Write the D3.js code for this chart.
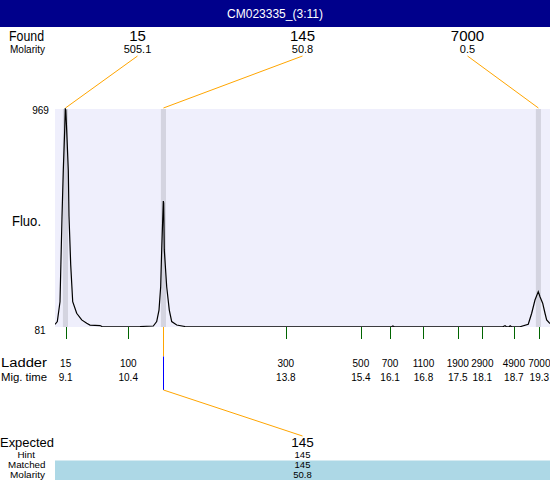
<!DOCTYPE html>
<html><head><meta charset="utf-8">
<script src="https://cdn.jsdelivr.net/npm/d3@7"></script>
<style>body{margin:0;background:#fff}svg{display:block}text{font-family:"Liberation Sans",Arial,sans-serif}</style>
</head><body><svg id="c" width="550" height="480"></svg>
<script>
const title = "CM023335_(3:11)";
const foundSizes = ["15", "145", "7000"];
const foundMolarity = ["505.1", "50.8", "0.5"];
const foundTimes = [9.065, 11.18, 19.27];
const ladderSizes = [15, 100, 300, 500, 700, 1100, 1900, 2900, 4900, 7000];
const ladderTimes = [9.07, 10.42, 13.82, 15.44, 16.07, 16.79, 17.53, 18.06, 18.74, 19.29];
const expectedSizes = ["145"];
const hintValues = ["145"];
const matchedValues = ["145"];
const matchedMolarity = ["50.8"];
const yTicks = [81, 969];
const traceTime = [8.84, 8.89, 8.948, 8.991, 9.019, 9.049, 9.062, 9.073, 9.092, 9.127, 9.142, 9.179, 9.222, 9.308, 9.416, 9.524, 9.595, 9.811, 9.854, 10.2, 10.674, 10.961, 11.034, 11.084, 11.12, 11.142, 11.177, 11.185, 11.198, 11.25, 11.306, 11.358, 11.466, 11.645, 12.5, 14.0, 16.1, 16.13, 16.16, 17.5, 18.5, 18.55, 18.58, 18.64, 18.66, 18.69, 18.87, 19.051, 19.125, 19.196, 19.267, 19.304, 19.362, 19.412, 19.448, 19.52];
const traceFluo = [92, 103, 184, 530, 720, 883, 969, 965, 883, 720, 533, 334, 184, 137, 110, 96, 89, 87, 83, 82, 83, 85, 103, 150, 245, 395, 594, 586, 395, 245, 150, 103, 89, 83, 82, 82, 82, 85, 82, 82, 82, 86, 82, 82, 86, 82, 82, 92, 137, 191, 225, 204, 178, 137, 110, 95];

const svg = d3.select("#c");
const W = 550, H = 480;
const plot = {x0: 55, x1: 550, y0: 109, y1: 327};
const x = d3.scaleLinear().domain([8.84, 19.52]).range([plot.x0, plot.x1]);
const y = d3.scaleLinear().domain([81, 969]).range([plot.y1, plot.y0]);
const bandHalf = 0.055;
const lab = d3.scaleBand().domain(d3.range(foundSizes.length)).range([plot.x0, plot.x1]);
const lx = i => lab(i) + lab.bandwidth() / 2;

function label(xx, yy, txt, size, len, anchor) {
  const t = svg.append("text").attr("x", xx).attr("y", yy).attr("font-size", size)
    .attr("text-anchor", anchor || "start").text(txt);
  if (len) t.attr("textLength", len).attr("lengthAdjust", "spacingAndGlyphs");
  return t;
}

// header
svg.append("rect").attr("x", 0).attr("y", 0).attr("width", W).attr("height", 27).attr("fill", "#00008b");
label(W / 2, 18, title, 12, null, "middle").attr("fill", "#fff");

// found labels
label(9, 41, "Found", 15, 35);
label(10, 53, "Molarity", 11, 35);
foundSizes.forEach((s, i) => {
  label(lx(i), 41, s, 15, null, "middle");
  label(lx(i), 53, foundMolarity[i], 11, null, "middle");
});

// plot background
svg.append("rect").attr("x", plot.x0).attr("y", plot.y0).attr("width", plot.x1 - plot.x0).attr("height", plot.y1 - plot.y0).attr("fill", "#efeffc");
// peak bands
svg.selectAll("rect.band").data(foundTimes).join("rect").attr("class", "band")
  .attr("x", d => x(d - bandHalf)).attr("width", d => x(d + bandHalf) - x(d - bandHalf))
  .attr("y", plot.y0).attr("height", plot.y1 - plot.y0).attr("fill", "#d4d4e0");

// leader lines top
foundTimes.forEach((t, i) => {
  svg.append("line").attr("x1", lx(i)).attr("y1", 56).attr("x2", x(t)).attr("y2", plot.y0 - 1)
    .attr("stroke", "#ffa500").attr("stroke-width", 1);
});

// trace
svg.append("defs").append("clipPath").attr("id", "clp").append("rect")
  .attr("x", plot.x0).attr("y", plot.y0 - 1).attr("width", plot.x1 - plot.x0).attr("height", plot.y1 - plot.y0 + 1);
const line = d3.line().x((d, i) => x(traceTime[i])).y((d, i) => y(traceFluo[i]));
svg.append("path").datum(traceFluo).attr("d", line).attr("fill", "none").attr("stroke", "#000")
  .attr("stroke-width", 1.2).attr("clip-path", "url(#clp)");

// y labels
label(40.5, 113.5, yTicks[1], 10, null, "middle");
label(40, 333.5, yTicks[0], 10, null, "middle");
label(12, 225.5, "Fluo.", 14, 29);

// ladder ticks
svg.selectAll("line.lad").data(ladderTimes).join("line").attr("class", "lad")
  .attr("x1", d => Math.round(x(d)) + 0.5).attr("x2", d => Math.round(x(d)) + 0.5)
  .attr("y1", plot.y1).attr("y2", 339).attr("stroke", "#006400");
label(1, 367, "Ladder", 12, 46);
label(1, 381, "Mig. time", 11, 46);
ladderSizes.forEach((s, i) => {
  label(x(ladderTimes[i]), 367, s, 10, null, "middle");
  label(x(ladderTimes[i]), 381, ladderTimes[i].toFixed(1), 10, null, "middle");
});

// matched peak chain (145)
const mx = Math.round(x(foundTimes[1])) + 0.5;
const ex = lx(1);
svg.append("line").attr("x1", mx).attr("x2", mx).attr("y1", plot.y1).attr("y2", 356.5).attr("stroke", "#ffa500");
svg.append("line").attr("x1", mx).attr("x2", mx).attr("y1", 356.5).attr("y2", 390).attr("stroke", "#0000ff");
svg.append("line").attr("x1", mx).attr("y1", 390).attr("x2", ex).attr("y2", 436).attr("stroke", "#ffa500");

// bottom table
svg.append("rect").attr("x", plot.x0).attr("y", 460.5).attr("width", W - plot.x0).attr("height", H - 460.5).attr("fill", "#add8e6");
label(0, 446.5, "Expected", 13, 54);
label(17.5, 457.5, "Hint", 9.5, 17.5);
label(8, 468, "Matched", 9.5, 37.5);
label(10, 478, "Molarity", 9.5, 35);
expectedSizes.forEach((s, i) => {
  label(ex, 446.5, s, 13.5, null, "middle");
  label(ex, 457.5, hintValues[i], 9.5, null, "middle");
  label(ex, 468, matchedValues[i], 9.5, null, "middle");
  label(ex, 478, matchedMolarity[i], 9.5, null, "middle");
});
</script></body></html>
